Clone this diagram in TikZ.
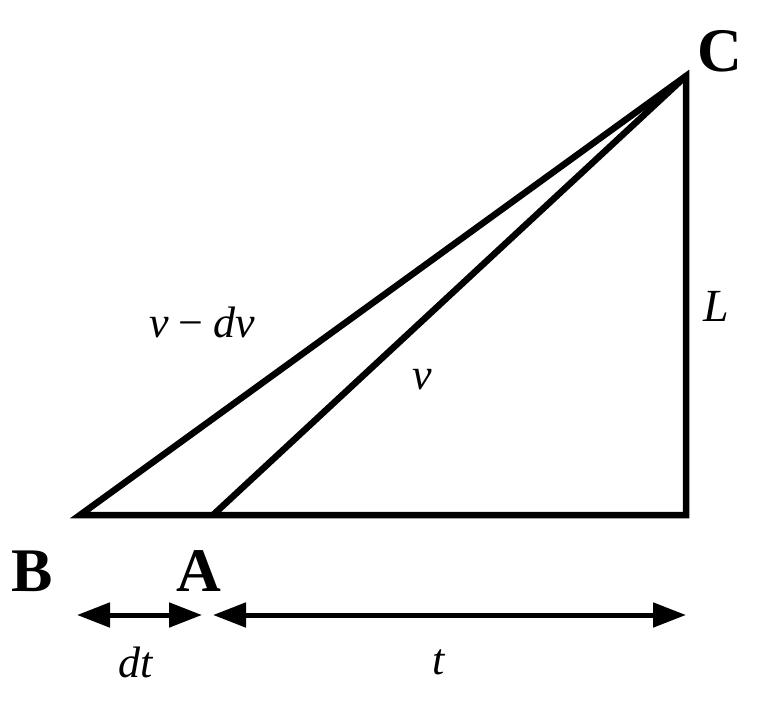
\documentclass[tikz,border=0pt]{standalone}
\usepackage{fontspec}
\setmainfont{Liberation Serif}
\usetikzlibrary{arrows.meta}
\begin{document}
\begin{tikzpicture}[x=1pt,y=-1pt,
  edge/.style={line width=6.5pt,line join=miter},
  dim/.style={line width=5pt,{Triangle[length=33pt,width=24pt]}-{Triangle[length=33pt,width=24pt]}},
  ptlabel/.style={inner sep=0pt,font=\fontsize{62}{64}\selectfont\bfseries},
  varlabel/.style={inner sep=0pt,font=\fontsize{44}{46}\selectfont\itshape}]
\useasboundingbox (0,0) rectangle (769,704);
\coordinate (B) at (80,515);
\coordinate (A) at (213,515);
\coordinate (D) at (686,515);
\coordinate (C) at (686,76);
\coordinate (dl) at (77,615);
\coordinate (dr) at (202,615);
\coordinate (tl) at (213,615);
\coordinate (tr) at (686,615);
\draw[edge] (B) -- (D) -- (C) -- cycle;
\draw[edge] (A) -- (C);
\draw[dim] (dl) -- (dr);
\draw[dim] (tl) -- (tr);
\node[ptlabel] (lC) at (720,51) {C};
\node[ptlabel] (lB) at (32,571) {B};
\node[ptlabel] (lA) at (199,571) {A};
\node[varlabel,font=\fontsize{46}{48}\selectfont\itshape] (lL) at (716,306) {L};
\node[varlabel,font=\fontsize{44}{46}\selectfont] (lvdv) at (202,322) {\textit{v}\hspace{0.22em}−\hspace{0.22em}\textit{dv}};
\node[varlabel] (lv) at (422,380) {v};
\node[varlabel] (ldt) at (136,662) {dt};
\node[varlabel] (lt) at (439,662) {t};
\end{tikzpicture}
\end{document}
